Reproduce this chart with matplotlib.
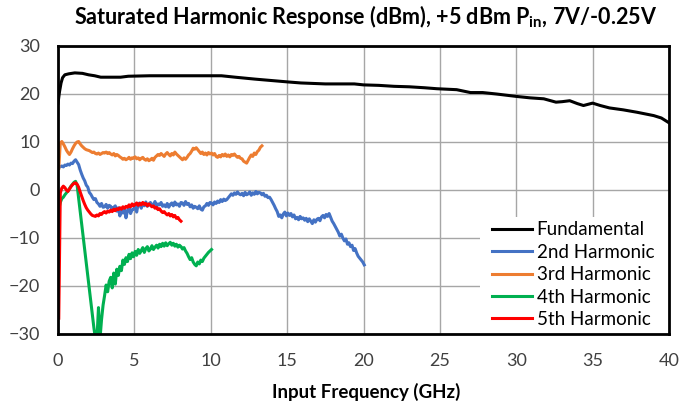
import numpy as np
import matplotlib
matplotlib.use("Agg")
import matplotlib.pyplot as plt
from matplotlib.patches import Rectangle

# fundamental
fund_f = [0.0, 0.1, 0.2, 0.3, 0.45, 0.7, 1.1, 1.6, 2.0, 2.4,
          2.8, 3.5, 4.1, 4.6, 6.0, 8.0, 10.7, 11.6, 12.9, 14.0,
          15.1, 15.9, 17.5, 19.4, 20.0, 21.0, 22.0, 23.0, 24.0, 24.8,
          26.1, 27.0, 27.8, 28.7, 30.0, 30.9, 31.8, 32.6, 33.0, 33.5,
          34.0, 34.4, 35.0, 35.5, 36.1, 37.0, 37.9, 39.0, 39.5, 40.0]
fund_p = [18.1, 20.5, 22.3, 23.4, 24.0, 24.2, 24.4, 24.3, 24.0, 23.8,
          23.5, 23.5, 23.5, 23.7, 23.8, 23.8, 23.8, 23.5, 23.1, 22.8,
          22.5, 22.3, 22.1, 22.1, 21.9, 21.8, 21.6, 21.5, 21.3, 21.1,
          20.9, 20.3, 20.3, 20.0, 19.5, 19.2, 19.0, 18.3, 18.4, 18.6,
          18.0, 17.6, 18.1, 17.6, 17.1, 16.7, 16.2, 15.5, 15.0, 14.0]

# harmonics: sweep starts at 0.05 GHz, 0.1 GHz steps
h2_p = [4.6, 4.9, 5.0, 4.8, 5.2, 5.1, 5.4, 5.2, 5.6, 5.5,
        6.0, 6.3, 5.8, 5.3, 4.2, 3.3, 2.5, 1.9, 1.0, 0.6,
        -0.5, -0.9, -1.5, -2.0, -1.8, -2.6, -2.9, -3.4, -2.8, -3.6,
        -3.5, -3.0, -3.8, -3.2, -3.4, -4.1, -3.6, -3.3, -4.4, -3.7,
        -5.4, -4.2, -4.8, -3.9, -5.8, -4.3, -3.6, -4.9, -4.1, -4.0,
        -3.2, -4.6, -2.9, -2.7, -3.8, -2.8, -3.3, -2.5, -3.4, -3.0,
        -2.6, -3.2, -3.0, -2.4, -3.5, -2.9, -3.1, -2.6, -3.4, -3.1,
        -3.5, -2.8, -3.6, -3.0, -2.7, -3.3, -2.5, -3.1, -2.9, -3.4,
        -2.6, -2.7, -3.2, -2.4, -3.0, -2.8, -3.5, -3.1, -3.8, -3.4,
        -3.6, -3.9, -3.3, -4.0, -4.2, -3.5, -3.3, -2.8, -3.2, -2.6,
        -2.7, -3.1, -2.5, -2.8, -2.3, -2.6, -2.0, -2.4, -1.9, -2.2,
        -2.0, -1.6, -1.2, -0.8, -1.1, -0.6, -0.9, -0.4, -0.8, -1.0,
        -0.7, -1.2, -0.5, -1.0, -0.8, -0.4, -1.1, -0.6, -0.9, -0.3,
        -0.8, -0.5, -0.6, -1.0, -0.7, -1.3, -1.1, -1.6, -1.5, -2.0,
        -2.6, -3.2, -3.9, -4.5, -5.5, -5.2, -5.8, -5.0, -4.6, -5.4,
        -4.8, -5.3, -4.9, -5.6, -5.2, -6.0, -5.7, -6.2, -5.5, -6.0,
        -5.8, -6.3, -5.9, -6.6, -6.0, -6.5, -7.0, -6.2, -6.7, -6.1,
        -5.9, -6.4, -5.6, -5.3, -5.8, -5.1, -5.5, -4.9, -5.7, -6.5,
        -7.0, -7.6, -8.2, -8.8, -9.6, -9.2, -10.0, -10.6, -10.2, -11.3,
        -11.0, -11.8, -11.5, -12.6, -12.2, -13.1, -13.8, -14.2, -14.6, -15.0,
        -15.6]

h3_p = [4.5, 9.8, 10.1, 9.6, 9.0, 8.3, 7.8, 7.4, 7.9, 8.6,
        9.2, 9.7, 10.0, 10.1, 9.6, 9.2, 8.9, 8.6, 8.4, 8.3,
        8.2, 8.0, 7.8, 7.9, 7.6, 7.5, 7.7, 7.4, 7.6, 7.8,
        7.7, 7.9, 7.6, 7.8, 7.5, 7.3, 7.6, 7.1, 7.4, 7.2,
        6.9, 6.7, 6.4, 6.6, 6.3, 6.5, 6.8, 6.4, 6.7, 6.6,
        6.9, 6.5, 6.7, 6.3, 6.6, 6.8, 6.4, 6.2, 6.5, 6.1,
        6.3, 6.6, 6.2, 6.8, 7.1, 7.4, 7.2, 7.6, 7.3, 7.0,
        7.5, 7.8, 7.4, 7.1, 7.6, 7.3, 7.9, 7.5, 7.2, 6.9,
        6.6, 6.3, 6.7, 6.4, 6.8, 7.3, 7.6, 8.1, 8.7, 8.5,
        8.8, 8.4, 8.0, 7.6, 7.9, 7.4, 7.7, 7.3, 7.8, 7.5,
        7.7, 7.3, 7.6, 7.0, 6.8, 7.2, 6.9, 7.4, 7.1, 7.5,
        7.0, 7.3, 6.9, 7.4, 7.2, 7.5, 7.1, 6.8, 7.0, 6.6,
        6.5, 6.0, 5.8, 5.6, 6.2, 6.8, 7.3, 7.0, 7.7, 7.4,
        8.0, 8.3, 8.9, 9.2]

h4_p = [-4.0, -2.6, -1.8, -1.5, -1.0, -0.6, -0.2, 0.3, 0.8, 1.2,
        1.6, 1.8, 1.0, -1.7, -4.4, -7.1, -9.8, -12.5, -15.2, -17.9,
        -20.6, -23.3, -26.0, -28.7, -31.0, -31.0, -24.5, -31.0, -27.0, -24.0,
        -22.0, -19.8, -21.2, -19.0, -18.2, -20.4, -17.3, -19.6, -16.5, -17.8,
        -15.9, -16.8, -14.6, -15.5, -14.1, -14.9, -13.4, -14.3, -13.1, -13.9,
        -12.8, -13.6, -12.4, -13.2, -12.6, -12.0, -13.0, -12.2, -11.8, -12.7,
        -12.3, -11.6, -12.4, -11.9, -11.5, -12.1, -11.3, -11.8, -11.1, -11.7,
        -11.0, -11.6, -11.2, -10.9, -11.5, -11.1, -11.7, -11.3, -11.9, -11.5,
        -11.8, -12.3, -12.0, -12.7, -13.2, -13.9, -14.5, -14.1, -15.0, -15.5,
        -15.8, -15.0, -15.4, -14.6, -14.9, -14.2, -13.8, -13.4, -13.0, -12.7,
        -12.4]

h5_p = [-26.7, -0.6, 0.4, 0.8, 0.5, 0.0, -0.3, 0.2, 0.7, 1.1,
        1.4, 1.5, 1.2, 0.6, -0.4, -1.3, -2.2, -3.0, -3.7, -4.2,
        -4.6, -5.0, -5.3, -5.4, -5.5, -5.2, -5.4, -4.9, -5.1, -4.7,
        -4.5, -4.8, -4.4, -4.6, -4.2, -4.5, -4.0, -4.3, -3.9, -4.1,
        -3.7, -4.0, -3.5, -3.8, -3.4, -3.6, -3.1, -3.5, -2.9, -3.3,
        -3.0, -2.7, -3.2, -2.8, -3.1, -2.6, -3.0, -2.8, -3.3, -2.9,
        -3.2, -3.5, -3.3, -3.8, -3.6, -4.1, -3.9, -4.4, -4.7, -4.5,
        -4.9, -5.2, -4.9, -5.4, -5.1, -5.6, -5.3, -5.9, -5.7, -6.2,
        -6.5]

labels = ["Fundamental", "2nd Harmonic", "3rd Harmonic", "4th Harmonic", "5th Harmonic"]
colors = ["#000000", "#4472C4", "#ED7D31", "#00B050", "#FF0000"]

f_start, f_step = 0.05, 0.1
h2_f = f_start + np.arange(len(h2_p)) * f_step
h3_f = f_start + np.arange(len(h3_p)) * f_step
h4_f = f_start + np.arange(len(h4_p)) * f_step
h5_f = f_start + np.arange(len(h5_p)) * f_step

plt.rcParams['font.family'] = ['Lato', 'DejaVu Sans']

fig = plt.figure(figsize=(6.95, 4.07), dpi=100)
ax = fig.add_axes([58 / 695, 1 - 334 / 407, 611 / 695, 288 / 407])

series = [(fund_f, fund_p), (h2_f, h2_p), (h3_f, h3_p), (h4_f, h4_p), (h5_f, h5_p)]
for (f, p), lab, c in zip(series, labels, colors):
    ax.plot(f, p, color=c, lw=2.2, label=lab, solid_joinstyle='round', zorder=3)

ax.set_xlim(0, 40)
ax.set_ylim(-30, 30)
ax.set_xticks(np.arange(0, 41, 5))
ax.set_yticks(np.arange(-30, 31, 10))
ax.grid(True, color='#a6a6a6', lw=1)
ax.set_axisbelow(True)
ax.tick_params(length=0, labelsize=13, pad=14, colors='#404040')
ax.tick_params(axis='y', pad=13)
for s in ax.spines.values():
    s.set_linewidth(2)
    s.set_color('black')
    s.set_zorder(4)

# white legend area in the lower right corner, covers the grid
ax.add_patch(Rectangle(((480 - 58) / 611, 0), 1 - (480 - 58) / 611, (334 - 217) / 288,
                       transform=ax.transAxes, facecolor='white', edgecolor='none', zorder=2))
leg = ax.legend(loc='lower left', bbox_to_anchor=((488 - 58) / 611, 0.008),
                borderaxespad=0, borderpad=0.2, fontsize=13.5, handlelength=2.15,
                handletextpad=0.25, labelspacing=0.29, frameon=False)

fig.text(366 / 695, 1 - 17 / 407, "Saturated Harmonic Response (dBm), +5 dBm P$_{\\mathregular{in}}$, 7V/-0.25V",
         ha='center', va='center', fontsize=15.5, fontweight='bold')
fig.text(366 / 695, 1 - 392 / 407, "Input Frequency (GHz)", ha='center', va='center',
         fontsize=13.5, fontweight='bold')

fig.savefig("out.png", dpi=100)
